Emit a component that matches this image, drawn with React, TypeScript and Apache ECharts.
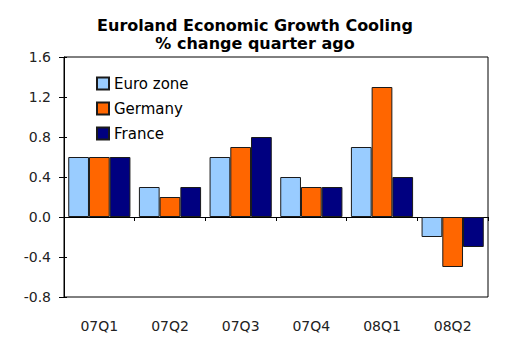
import React, { useEffect, useRef } from "react";
import * as echarts from "echarts";

const categories = ["07Q1", "07Q2", "07Q3", "07Q4", "08Q1", "08Q2"];
const euroZone = [0.6, 0.3, 0.6, 0.4, 0.7, -0.2];
const germany = [0.6, 0.2, 0.7, 0.3, 1.3, -0.5];
const france = [0.6, 0.3, 0.8, 0.3, 0.4, -0.3];
const titleLines = ["Euroland Economic Growth Cooling", "% change quarter ago"];

export default function App() {
  const ref = useRef<HTMLDivElement>(null);
  useEffect(() => {
    if (!ref.current) return;
    const chart = echarts.init(ref.current, null, { renderer: "svg" });
    const font = "DejaVu Sans, sans-serif";
    const barStyle = (color: string) => ({
      color,
      borderColor: "#1a1a1a",
      borderWidth: 1,
    });
    const yCommon = {
      type: "value",
      min: -0.8,
      max: 1.6,
      interval: 0.4,
      splitLine: { show: false },
    };
    chart.setOption({
      animation: false,
      backgroundColor: "#ffffff",
      title: {
        text: titleLines.join("\n"),
        left: 250,
        textAlign: "center",
        top: 11,
        textStyle: {
          fontFamily: font,
          fontSize: 16,
          fontWeight: "bold",
          color: "#000",
          lineHeight: 18,
        },
      },
      legend: {
        orient: "vertical",
        left: 91,
        top: 71,
        itemWidth: 12,
        itemHeight: 12,
        itemGap: 10,
        icon: "rect",
        textStyle: { fontFamily: font, fontSize: 15, color: "#000" },
        data: ["Euro zone", "Germany", "France"],
      },
      grid: {
        left: 64,
        right: 32,
        top: 57,
        bottom: 53,
        show: true,
        borderColor: "#000",
        borderWidth: 1,
        containLabel: false,
      },
      xAxis: [
        {
          type: "category",
          data: categories,
          axisLine: { onZero: true, lineStyle: { color: "#000", width: 1 } },
          axisTick: { show: true, length: 4, lineStyle: { color: "#000" } },
          axisLabel: { show: false },
        },
        {
          type: "category",
          data: categories,
          position: "bottom",
          axisLine: { show: false, onZero: false },
          axisTick: { show: false },
          axisLabel: { fontFamily: font, fontSize: 14, color: "#222", margin: 22 },
        },
        {
          type: "category",
          data: categories,
          axisLine: { show: false, onZero: true },
          axisTick: { show: true, inside: true, length: 4, lineStyle: { color: "#000" } },
          axisLabel: { show: false },
        },
      ],
      yAxis: [
        {
          ...yCommon,
          axisLine: { show: true, lineStyle: { color: "#000" } },
          axisTick: { show: true, length: 5, lineStyle: { color: "#000" } },
          axisLabel: {
            fontFamily: font,
            fontSize: 14,
            color: "#222",
            margin: 13,
            formatter: (v: number) => v.toFixed(1),
          },
        },
        {
          ...yCommon,
          position: "left",
          axisLine: { show: false },
          axisTick: { show: true, inside: true, length: 3, lineStyle: { color: "#000" } },
          axisLabel: { show: false },
        },
      ],
      series: [
        {
          name: "Euro zone",
          type: "bar",
          data: euroZone,
          itemStyle: barStyle("#99CCFF"),
          barGap: "0%",
          barCategoryGap: "12%",
        },
        {
          name: "Germany",
          type: "bar",
          data: germany,
          itemStyle: barStyle("#FF6600"),
          barGap: "0%",
          barCategoryGap: "12%",
        },
        {
          name: "France",
          type: "bar",
          data: france,
          itemStyle: barStyle("#000080"),
          barGap: "0%",
          barCategoryGap: "12%",
        },
      ],
    });
    return () => chart.dispose();
  }, []);
  return <div ref={ref} style={{ width: 520, height: 350, margin: -8 }} />;
}
